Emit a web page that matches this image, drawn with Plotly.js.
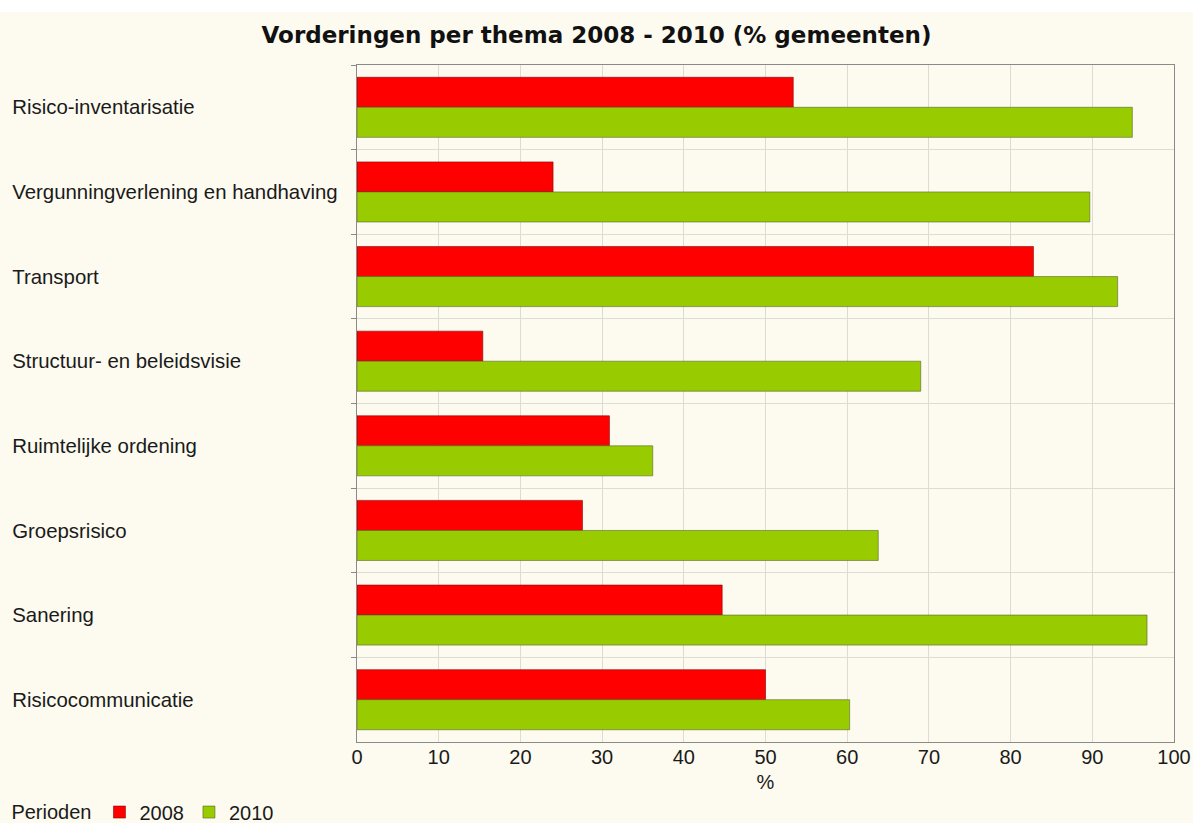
<!DOCTYPE html>
<html>
<head>
<meta charset="utf-8">
<script src="https://cdn.plot.ly/plotly-3.0.1.min.js"></script>
<style>
  html, body { margin: 0; padding: 0; background: #ffffff; }
  #chart { width: 1193px; height: 811px; margin-top: 12px; }
</style>
</head>
<body>
<div id="chart"></div>
<script>
const categories = [
  "Risico-inventarisatie",
  "Vergunningverlening en handhaving",
  "Transport",
  "Structuur- en beleidsvisie",
  "Ruimtelijke ordening",
  "Groepsrisico",
  "Sanering",
  "Risicocommunicatie"
];
const values2008 = [53.4, 24.0, 82.8, 15.4, 30.9, 27.6, 44.7, 50.0];
const values2010 = [94.9, 89.7, 93.1, 69.0, 36.2, 63.8, 96.7, 60.3];
const seriesNames = ["2008", "2010"];
const xTicks = [0, 10, 20, 30, 40, 50, 60, 70, 80, 90, 100];

const bg = "#fdfaf0";
const labelFont = { family: "Liberation Sans, Arial, sans-serif", size: 20, color: "#1a1a1a" };

const traces = [
  {
    type: "bar", orientation: "h", name: seriesNames[0],
    x: values2008, y: categories,
    marker: { color: "#ff0000", line: { color: "rgba(120,0,0,0.55)", width: 1 } },
    hoverinfo: "x+y"
  },
  {
    type: "bar", orientation: "h", name: seriesNames[1],
    x: values2010, y: categories,
    marker: { color: "#99cc00", line: { color: "rgba(80,90,40,0.55)", width: 1 } },
    hoverinfo: "x+y"
  },
  {
    type: "scatter", mode: "markers", x: values2008, y: categories,
    yaxis: "y2", marker: { opacity: 0 }, showlegend: false, hoverinfo: "skip"
  }
];

const layout = {
  width: 1193, height: 811,
  paper_bgcolor: bg, plot_bgcolor: bg,
  margin: { l: 0, r: 19, t: 53, b: 81, autoexpand: false },
  barmode: "group", bargap: 0.29, bargroupgap: 0,
  title: {
    text: "<b>Vorderingen per thema 2008 - 2010 (% gemeenten)</b>",
    font: { family: "DejaVu Sans, sans-serif", size: 23, color: "#111" },
    x: 0.5, xref: "container", xanchor: "center",
    y: 0.972, yref: "container", yanchor: "middle"
  },
  xaxis: {
    domain: [357 / 1174, 1], automargin: false,
    range: [0, 100], tickvals: xTicks, ticks: "",
    showgrid: true, gridcolor: "#dcdcd2", gridwidth: 1,
    showline: true, linecolor: "#8a8a8a", linewidth: 1, mirror: true,
    zeroline: false,
    tickfont: labelFont, ticklabelstandoff: -3,
    title: { text: "%", font: labelFont, standoff: 13 }
  },
  yaxis: {
    type: "category", range: [7.5, -0.5], automargin: false,
    tickson: "boundaries", ticks: "outside", ticklen: 5, tickcolor: "#8a8a8a",
    showticklabels: false,
    showgrid: true, gridcolor: "#dcdcd2", gridwidth: 1,
    showline: true, linecolor: "#8a8a8a", linewidth: 1, mirror: true,
    zeroline: false
  },
  yaxis2: {
    type: "category", range: [7.5, -0.5], automargin: false,
    overlaying: "y", anchor: "free", position: 0.007, side: "left",
    ticklabelposition: "inside", ticks: "",
    showgrid: false, showline: false, zeroline: false,
    tickfont: { family: "Liberation Sans, Arial, sans-serif", size: 20.4, color: "#1a1a1a" }
  },
  showlegend: true,
  legend: {
    orientation: "h", x: 0.008, xanchor: "left",
    yref: "container", y: 0.0135, yanchor: "middle",
    title: { text: "Perioden", side: "left", font: labelFont },
    font: labelFont, bgcolor: "rgba(0,0,0,0)",
    itemwidth: 30, tracegroupgap: 0
  }
};

Plotly.newPlot("chart", traces, layout, { displayModeBar: false, staticPlot: true });
</script>
</body>
</html>
